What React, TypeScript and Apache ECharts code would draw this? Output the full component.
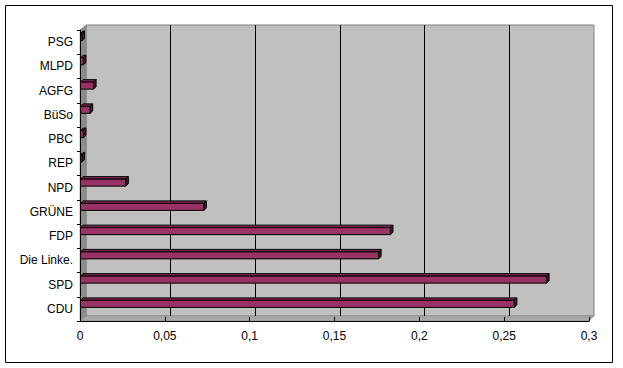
import React, { useEffect, useRef } from "react";
import * as echarts from "echarts";

const categories = ["CDU", "SPD", "Die Linke.", "FDP", "GRÜNE", "NPD", "REP", "PBC", "BüSo", "AGFG", "MLPD", "PSG"];
const shares = [0.256, 0.275, 0.176, 0.183, 0.073, 0.027, 0.001, 0.002, 0.006, 0.008, 0.002, 0.001];
const xTickLabels = ["0", "0,05", "0,1", "0,15", "0,2", "0,25", "0,3"];
const xStep = 0.05;

const FONT = "'Liberation Sans', Arial, sans-serif";

export default function App() {
  const ref = useRef<HTMLDivElement>(null);
  useEffect(() => {
    if (!ref.current) return;
    const chart = echarts.init(ref.current, undefined, { renderer: "svg" });
    const depth = 2.5;
    chart.setOption({
      animation: false,
      backgroundColor: "#ffffff",
      textStyle: { fontFamily: FONT },
      grid: [
        { left: 80, right: 34, top: 30, bottom: 47, show: false },
        {
          left: 86, right: 29, top: 25, bottom: 52, show: true,
          backgroundColor: "#c0c0c0", borderColor: "#808080", borderWidth: 1, z: 0,
        },
      ],
      graphic: [
        {
          type: "polygon", z: 1, silent: true,
          shape: { points: [[80, 30], [86, 25], [86, 316], [80, 321]] },
          style: { fill: "#8c8c8c", stroke: "#707070", lineWidth: 0.5 },
        },
        {
          type: "polygon", z: 1, silent: true,
          shape: { points: [[80, 321], [86, 316], [594, 316], [589, 321]] },
          style: { fill: "#a8a8a8", stroke: "#808080", lineWidth: 0.5 },
        },
        {
          type: "rect", z: 10, silent: true,
          shape: { x: 5.5, y: 5.5, width: 607, height: 357 },
          style: { fill: "none", stroke: "#000000", lineWidth: 1 },
        },
      ],
      xAxis: [
        {
          type: "value", gridIndex: 0, min: 0, max: 0.3, interval: xStep, z: 6,
          axisLine: { show: true, lineStyle: { color: "#000000", width: 1 } },
          axisTick: { show: true, inside: true, length: 4, lineStyle: { color: "#000000" } },
          splitLine: { show: false },
          axisLabel: {
            color: "#000000", fontSize: 12, fontFamily: FONT, margin: 9,
            formatter: (v: number) => xTickLabels[Math.round(v / xStep)] ?? "",
          },
        },
        {
          type: "value", gridIndex: 1, min: 0, max: 0.3, interval: xStep, z: 2,
          axisLine: { show: false }, axisTick: { show: false }, axisLabel: { show: false },
          splitLine: { show: true, showMinLine: false, showMaxLine: false, lineStyle: { color: "#000000", width: 1 } },
        },
      ],
      yAxis: [
        {
          type: "category", gridIndex: 0, data: categories, z: 6,
          axisLine: { show: true, lineStyle: { color: "#000000", width: 1 } },
          axisTick: { show: true, length: 3, lineStyle: { color: "#000000" } },
          axisLabel: { color: "#000000", fontSize: 12, fontFamily: FONT, margin: 7 },
          splitLine: { show: false },
        },
        {
          type: "category", gridIndex: 1, data: categories, show: false,
          splitLine: { show: false },
        },
      ],
      series: [
        {
          type: "custom",
          xAxisIndex: 0,
          yAxisIndex: 0,
          z: 5,
          data: shares.map((v, i) => [v, i]),
          encode: { x: 0, y: 1 },
          renderItem: (params: any, api: any) => {
            const val = api.value(0);
            const idx = api.value(1);
            const start = api.coord([0, idx]);
            const end = api.coord([val, idx]);
            const cy = end[1];
            const x0 = start[0] + 0.5;
            const x1 = Math.max(end[0], x0 + 1.5);
            const yTop = cy - 8.5;
            const yBot = cy - 1.5;
            return {
              type: "group",
              children: [
                {
                  type: "polygon",
                  shape: { points: [[x0, yTop], [x0 + depth, yTop - depth], [x1 + depth, yTop - depth], [x1, yTop]] },
                  style: { fill: "#7a2952", stroke: "#000000", lineWidth: 1 },
                },
                {
                  type: "polygon",
                  shape: { points: [[x1, yTop], [x1 + depth, yTop - depth], [x1 + depth, yBot - depth], [x1, yBot]] },
                  style: { fill: "#4d1933", stroke: "#000000", lineWidth: 1 },
                },
                {
                  type: "rect",
                  shape: { x: x0, y: yTop, width: x1 - x0, height: yBot - yTop },
                  style: { fill: "#993366", stroke: "#000000", lineWidth: 1 },
                },
              ],
            };
          },
        },
      ],
    });
    return () => chart.dispose();
  }, []);
  return <div ref={ref} style={{ position: "fixed", left: 0, top: 0, width: 623, height: 368 }} />;
}
